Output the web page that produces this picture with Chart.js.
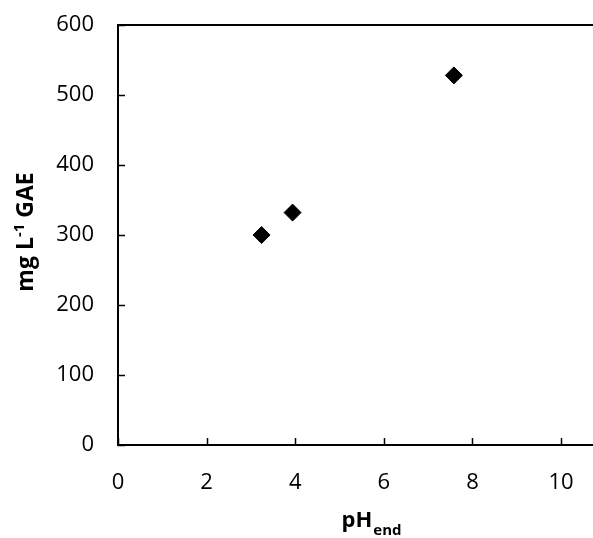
<!DOCTYPE html>
<html>
<head>
<meta charset="utf-8">
<script src="https://cdn.jsdelivr.net/npm/chart.js@4/dist/chart.umd.min.js"></script>
<style>
  html, body { margin: 0; padding: 0; background: #fff; }
  #wrap { width: 593px; height: 538px; }
</style>
</head>
<body>
<div id="wrap"><canvas id="c" width="593" height="538"></canvas></div>
<script>
// datos
const phEnd = [3.24, 3.94, 7.58];
const gae = [300, 332, 528];
const xTicks = [0, 2, 4, 6, 8, 10];
const yTicks = [0, 100, 200, 300, 400, 500, 600];

const FONT = "'Open Sans', sans-serif";

// marco superior, marcas hacia dentro y títulos con sub/superíndice
const frame = {
  id: 'frame',
  afterDraw(chart) {
    const { ctx, chartArea: a, scales: { x, y } } = chart;
    ctx.save();
    ctx.strokeStyle = '#000';
    ctx.lineWidth = 2;
    ctx.beginPath();
    ctx.moveTo(a.left - 1, a.top);
    ctx.lineTo(a.right, a.top);
    ctx.stroke();

    ctx.lineWidth = 1.5;
    x.ticks.forEach(t => {
      const px = Math.round(x.getPixelForValue(t.value)) + 0.5;
      ctx.beginPath();
      ctx.moveTo(px, a.bottom);
      ctx.lineTo(px, a.bottom - 7);
      ctx.stroke();
    });
    y.ticks.forEach(t => {
      const py = Math.round(y.getPixelForValue(t.value)) + 0.5;
      ctx.beginPath();
      ctx.moveTo(a.left, py);
      ctx.lineTo(a.left + 7, py);
      ctx.stroke();
    });

    ctx.fillStyle = '#000';
    ctx.textBaseline = 'alphabetic';
    ctx.textAlign = 'left';

    // título eje x: pH_end
    const big = 'bold 22px ' + FONT, small = 'bold 15px ' + FONT;
    ctx.font = big; const w1 = ctx.measureText('pH').width;
    ctx.font = small; const w2 = ctx.measureText('end').width;
    let sx = 371 - (w1 + w2) / 2;
    ctx.font = big; ctx.fillText('pH', sx, 527);
    ctx.font = small; ctx.fillText('end', sx + w1 + 1, 535);

    // título eje y: mg L-1 GAE
    const yBig = 'bold 23px ' + FONT, ySmall = 'bold 15px ' + FONT;
    const parts = [['mg L', yBig, 0], ['-1', ySmall, -9], [' GAE', yBig, 0]];
    let total = 0;
    parts.forEach(p => { ctx.font = p[1]; total += ctx.measureText(p[0]).width; });
    ctx.translate(33, 232);
    ctx.rotate(-Math.PI / 2);
    let cx = -total / 2;
    parts.forEach(p => {
      ctx.font = p[1];
      ctx.fillText(p[0], cx, p[2]);
      cx += ctx.measureText(p[0]).width;
    });
    ctx.restore();
  }
};

// quitar el relleno extra que Chart.js reserva para las etiquetas
function noPad(s) {
  s.paddingTop = 0; s.paddingBottom = 0; s.paddingLeft = 0; s.paddingRight = 0;
}

new Chart(document.getElementById('c'), {
  type: 'scatter',
  data: {
    datasets: [{
      data: phEnd.map((v, i) => ({ x: v, y: gae[i] })),
      pointStyle: 'rectRot',
      pointRadius: 8.5,
      backgroundColor: '#000',
      borderColor: '#000',
      borderWidth: 1
    }]
  },
  options: {
    responsive: false,
    animation: false,
    layout: { autoPadding: false, padding: { top: 25, right: 0, left: 0, bottom: 0 } },
    plugins: { legend: { display: false }, tooltip: { enabled: false } },
    scales: {
      x: {
        type: 'linear',
        min: 0,
        max: 10.72,
        afterFit(s) { s.height = 93; noPad(s); },
        afterBuildTicks(s) { s.ticks = xTicks.map(v => ({ value: v })); },
        grid: { display: false, drawTicks: false },
        border: { display: true, color: '#000', width: 2 },
        ticks: { color: '#000', font: { family: FONT, size: 22 }, padding: 25, maxRotation: 0 }
      },
      y: {
        type: 'linear',
        min: 0,
        max: 600,
        afterFit(s) { s.width = 118; noPad(s); },
        afterBuildTicks(s) { s.ticks = yTicks.map(v => ({ value: v })); },
        grid: { display: false, drawTicks: false },
        border: { display: true, color: '#000', width: 2 },
        ticks: { color: '#000', font: { family: FONT, size: 22 }, padding: 24 }
      }
    }
  },
  plugins: [frame]
});
</script>
</body>
</html>
